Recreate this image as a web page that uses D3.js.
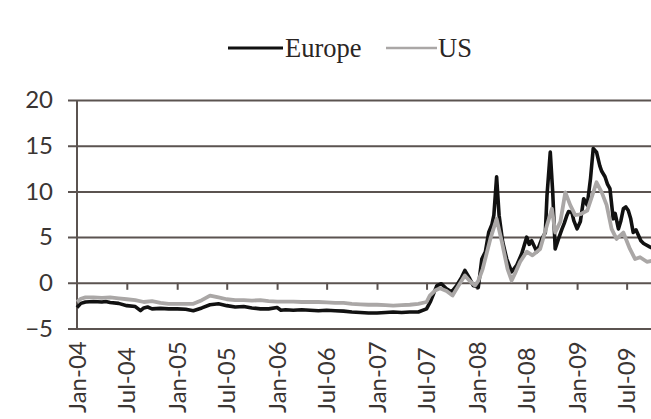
<!DOCTYPE html>
<html>
<head>
<meta charset="utf-8">
<script src="https://cdn.jsdelivr.net/npm/d3@7"></script>
<style>
  body { margin: 0; background: #fff; }
  svg { display: block; }
</style>
</head>
<body>
<svg id="chart" width="651" height="419"></svg>
<script>
// Spread (percentage points) by date, Europe and US
const europe = [
  ["2004-01-01",-2.7],["2004-01-15",-2.25],["2004-02-01",-2.1],["2004-03-01",-2.05],["2004-04-01",-2.1],
  ["2004-04-15",-2.05],["2004-05-01",-2.15],["2004-06-01",-2.25],["2004-07-01",-2.5],["2004-08-01",-2.6],
  ["2004-08-20",-3.05],["2004-09-01",-2.75],["2004-09-15",-2.65],["2004-10-01",-2.85],["2004-11-01",-2.8],
  ["2004-12-01",-2.85],["2005-01-01",-2.85],["2005-02-01",-2.9],["2005-03-01",-3.05],["2005-04-01",-2.75],
  ["2005-05-01",-2.4],["2005-06-01",-2.3],["2005-07-01",-2.5],["2005-08-01",-2.65],["2005-09-01",-2.6],
  ["2005-10-01",-2.75],["2005-11-01",-2.85],["2005-12-01",-2.85],["2006-01-01",-2.7],["2006-01-15",-3.0],
  ["2006-02-01",-2.95],["2006-03-01",-3.0],["2006-04-01",-2.95],["2006-05-01",-3.0],["2006-06-01",-3.05],
  ["2006-07-01",-3.0],["2006-08-01",-3.05],["2006-09-01",-3.1],["2006-10-01",-3.2],["2006-11-01",-3.25],
  ["2006-12-01",-3.3],["2007-01-01",-3.3],["2007-02-01",-3.25],["2007-03-01",-3.2],["2007-04-01",-3.25],
  ["2007-05-01",-3.2],["2007-06-01",-3.2],["2007-07-01",-2.85],["2007-07-16",-2.0],["2007-08-01",-0.8],
  ["2007-08-08",-0.3],["2007-08-24",-0.1],["2007-09-12",-0.65],["2007-10-01",-1.0],["2007-10-19",-0.3],
  ["2007-11-06",0.6],["2007-11-18",1.35],["2007-12-06",0.44],["2007-12-19",-0.3],["2008-01-06",-0.5],
  ["2008-01-19",2.6],["2008-02-01",3.4],["2008-02-13",5.5],["2008-02-25",6.4],["2008-03-03",7.4],
  ["2008-03-13",11.6],["2008-03-22",7.4],["2008-04-04",4.5],["2008-04-19",2.6],["2008-05-07",1.2],
  ["2008-05-25",1.9],["2008-06-13",3.2],["2008-07-01",5.0],["2008-07-10",4.2],["2008-07-19",4.6],
  ["2008-08-07",3.4],["2008-08-15",4.0],["2008-08-25",4.8],["2008-09-07",5.5],["2008-09-13",9.5],
  ["2008-09-25",14.3],["2008-10-04",9.9],["2008-10-13",3.7],["2008-10-25",4.8],["2008-11-07",5.9],
  ["2008-11-15",6.5],["2008-11-25",7.4],["2008-12-01",7.8],["2008-12-13",7.7],["2008-12-20",6.8],
  ["2009-01-01",5.9],["2009-01-13",6.7],["2009-01-25",9.2],["2009-02-07",8.5],["2009-02-19",11.4],
  ["2009-03-01",14.7],["2009-03-13",14.3],["2009-03-25",12.8],["2009-04-01",12.2],["2009-04-13",11.6],
  ["2009-04-22",10.8],["2009-05-01",10.3],["2009-05-13",7.0],["2009-05-20",7.6],["2009-06-01",5.9],
  ["2009-06-10",6.8],["2009-06-19",8.1],["2009-06-28",8.3],["2009-07-07",7.9],["2009-07-16",7.0],
  ["2009-07-25",5.5],["2009-08-04",5.8],["2009-08-13",5.2],["2009-08-22",4.6],["2009-09-01",4.3],
  ["2009-09-25",3.9],["2009-10-13",3.7]
];

const us = [
  ["2004-01-01",-2.1],["2004-01-15",-1.75],["2004-02-01",-1.6],["2004-03-01",-1.6],["2004-04-01",-1.65],
  ["2004-05-01",-1.6],["2004-06-01",-1.7],["2004-07-01",-1.8],["2004-08-01",-1.9],["2004-09-01",-2.1],
  ["2004-10-01",-2.0],["2004-11-01",-2.2],["2004-12-01",-2.3],["2005-01-01",-2.3],["2005-02-01",-2.3],
  ["2005-03-01",-2.3],["2005-04-01",-1.9],["2005-05-01",-1.4],["2005-06-01",-1.6],["2005-07-01",-1.8],
  ["2005-08-01",-1.9],["2005-09-01",-1.9],["2005-10-01",-1.95],["2005-11-01",-1.9],["2005-12-01",-2.0],
  ["2006-01-01",-2.05],["2006-02-01",-2.05],["2006-03-01",-2.05],["2006-04-01",-2.1],["2006-05-01",-2.1],
  ["2006-06-01",-2.1],["2006-07-01",-2.15],["2006-08-01",-2.2],["2006-09-01",-2.2],["2006-10-01",-2.3],
  ["2006-11-01",-2.35],["2006-12-01",-2.4],["2007-01-01",-2.4],["2007-02-01",-2.45],["2007-03-01",-2.5],
  ["2007-04-01",-2.45],["2007-05-01",-2.4],["2007-06-01",-2.3],["2007-07-01",-2.1],["2007-07-13",-1.4],
  ["2007-08-01",-0.85],["2007-08-19",-0.6],["2007-09-12",-0.9],["2007-10-04",-1.4],["2007-10-22",-0.5],
  ["2007-11-18",0.8],["2007-12-06",0.2],["2007-12-25",-0.3],["2008-01-06",0.2],["2008-01-22",1.5],
  ["2008-02-19",4.8],["2008-03-13",7.0],["2008-04-01",4.5],["2008-04-22",1.5],["2008-05-07",0.25],
  ["2008-05-22",1.2],["2008-06-07",2.3],["2008-07-01",3.4],["2008-07-22",3.0],["2008-08-19",3.7],
  ["2008-09-13",6.3],["2008-10-01",8.1],["2008-10-13",5.5],["2008-11-01",6.7],["2008-11-19",9.9],
  ["2008-12-07",8.5],["2008-12-25",7.4],["2009-01-13",7.5],["2009-02-07",7.9],["2009-02-25",9.5],
  ["2009-03-13",11.0],["2009-04-01",9.9],["2009-04-19",8.5],["2009-05-07",5.9],["2009-05-25",4.8],
  ["2009-06-19",5.5],["2009-07-13",3.7],["2009-08-01",2.6],["2009-08-19",2.8],["2009-09-13",2.3],
  ["2009-10-01",2.4]
];

const yTicks = [-5, 0, 5, 10, 15, 20];
const xTickDates = ["2004-01-01","2004-07-01","2005-01-01","2005-07-01","2006-01-01","2006-07-01",
                    "2007-01-01","2007-07-01","2008-01-01","2008-07-01","2009-01-01","2009-07-01"];

const W = 651, H = 419;
const parse = d3.timeParse("%Y-%m-%d");
const fmt = d3.timeFormat("%b-%y");

const x = d3.scaleTime()
  .domain([parse("2004-01-01"), parse("2010-01-01")])
  .range([77, 677]);
const y = d3.scaleLinear().domain([-5, 20]).range([328.5, 100]);

const svg = d3.select("#chart");
const gridColor = "#5b5350";
const sansFont = "Lato, 'Open Sans', sans-serif";

// Horizontal gridlines with outward tick stubs and value labels
const yAxis = d3.axisLeft(y).tickValues(yTicks).tickSize(-(W - 68)).tickPadding(15);
const gy = svg.append("g").attr("transform", "translate(68,0)").call(yAxis);
gy.select(".domain").remove();
gy.selectAll(".tick line").attr("stroke", gridColor).attr("stroke-width", 2);
gy.selectAll(".tick text")
  .attr("fill", "#3a3533")
  .style("font-family", sansFont)
  .style("font-size", "24px");

// Vertical value axis
svg.append("line")
  .attr("x1", 77).attr("x2", 77)
  .attr("y1", y(20)).attr("y2", y(-5))
  .attr("stroke", gridColor).attr("stroke-width", 2);

// Category tick marks hanging from the zero line
const tickDates = xTickDates.map(parse);
const xAxis = d3.axisBottom(x).tickValues(tickDates.slice(1)).tickSize(7).tickFormat("");
const gx = svg.append("g").attr("transform", `translate(0,${y(0)})`).call(xAxis);
gx.select(".domain").remove();
gx.selectAll(".tick line").attr("stroke", gridColor).attr("stroke-width", 2);

// Rotated date labels along the bottom
svg.append("g").selectAll("text")
  .data(tickDates)
  .join("text")
  .attr("transform", d => `translate(${x(d)},413) rotate(-90)`)
  .attr("dy", "0.36em")
  .attr("text-anchor", "start")
  .attr("fill", "#3a3533")
  .style("font-family", sansFont)
  .style("font-size", "24px")
  .text(d => fmt(d));

// Series lines
const line = d3.line()
  .x(d => x(parse(d[0])))
  .y(d => y(d[1]));

svg.append("path")
  .datum(europe)
  .attr("fill", "none")
  .attr("stroke", "#111")
  .attr("stroke-width", 3.6)
  .attr("stroke-linejoin", "round")
  .attr("d", line);

svg.append("path")
  .datum(us)
  .attr("fill", "none")
  .attr("stroke", "#aaa7a6")
  .attr("stroke-width", 3.8)
  .attr("stroke-linejoin", "round")
  .attr("d", line);

// Legend
const legend = [
  { name: "Europe", color: "#111", x1: 228, x2: 283, tx: 285, w: 3 },
  { name: "US", color: "#aaa7a6", x1: 386, x2: 437, tx: 438, w: 2.5 }
];
const lg = svg.append("g");
lg.selectAll("line")
  .data(legend)
  .join("line")
  .attr("x1", d => d.x1).attr("x2", d => d.x2)
  .attr("y1", 48).attr("y2", 48)
  .attr("stroke", d => d.color)
  .attr("stroke-width", d => d.w);
lg.selectAll("text")
  .data(legend)
  .join("text")
  .attr("x", d => d.tx)
  .attr("y", 57)
  .attr("fill", "#2a2523")
  .style("font-family", "'Liberation Serif', 'Times New Roman', serif")
  .style("font-size", "26.5px")
  .text(d => d.name);
</script>
</body>
</html>
